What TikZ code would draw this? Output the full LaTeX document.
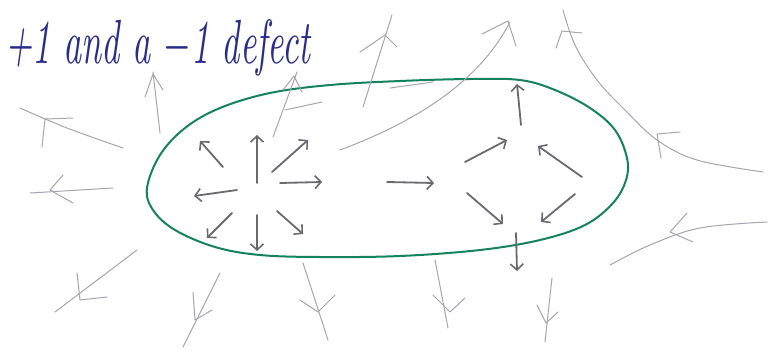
\documentclass[tikz,border=0pt]{standalone}
\usepackage{graphicx}
\usetikzlibrary{arrows.meta}
\definecolor{ink}{RGB}{40,45,140}
\definecolor{loop}{RGB}{20,130,95}
\definecolor{pencil}{RGB}{105,105,112}
\definecolor{faint}{RGB}{165,165,175}
\begin{document}
\begin{tikzpicture}[x=1pt,y=-1pt,
  inner/.style={draw=pencil,line width=1.8pt,line cap=round,-{Straight Barb[length=6pt,width=13pt,line width=1.6pt]}},
  field/.style={draw=faint,line width=1pt,line cap=round,line join=round},
  loopline/.style={draw=loop,line width=2pt},
  title/.style={text=ink,inner sep=0pt,anchor=base west}]
\useasboundingbox (0,0) rectangle (771,349);
% title
\node[title] (t) at (5,63) {\resizebox{305pt}{44pt}{\itshape +1 and a $-$1 defect}};
% loop
\draw[loopline] plot[smooth cycle,tension=0.6] coordinates {(147,188) (160,155) (185,128) (220,108) (270,93) (330,85) (400,81) (470,79) (520,80) (555,90) (590,108) (615,130) (627,158) (626,180) (613,203) (585,225) (540,240) (480,250) (400,256) (320,257) (260,255) (215,247) (175,230) (153,210)};
% +1 defect
\draw[inner] (257,183) -- (257,135);
\draw[inner] (272,172) -- (308,140);
\draw[inner] (280,183) -- (322,182);
\draw[inner] (223,167) -- (200,141);
\draw[inner] (237,190) -- (194,196);
\draw[inner] (232,213) -- (207,238);
\draw[inner] (257,215) -- (257,251);
\draw[inner] (277,211) -- (303,234);
% middle
\draw[inner] (387,182) -- (434,183);
% -1 defect
\draw[inner] (521,125) -- (517,84);
\draw[inner] (465,162) -- (507,140);
\draw[inner] (582,177) -- (538,146);
\draw[inner] (467,193) -- (503,224);
\draw[inner] (575,194) -- (541,222);
\draw[inner] (516,233) -- (517,271);
% outer field
\draw[field] (160,133) -- (153,72);
\draw[field] (145,97) -- (153,74) -- (163,90);
\draw[field] (273,137) -- (297,72);
\draw[field] (283,90) -- (294,76) -- (302,92);
\draw[field] (285,110) -- (322,102);
\draw[field] (390,88) -- (433,82);
\draw[field] (363,107) -- (392,15);
\draw[field] (360,52) -- (385,35) -- (397,47);
\draw[field] (340,150) .. controls (420,120) and (480,80) .. (510,22);
\draw[field] (482,34) -- (508,21) -- (516,46);
\draw[field] plot[smooth,tension=0.6] coordinates {(563,10) (575,45) (597,80) (625,110) (657,140) (697,160) (763,172)};
\draw[field] (556,48) -- (562,31) -- (582,33);
\draw[field] (680,132) -- (657,134) -- (661,158);
\draw[field] plot[smooth,tension=0.6] coordinates {(20,108) (67,128) (123,148)};
\draw[field] (73,118) -- (45,119) -- (42,147);
\draw[field] (30,193) -- (113,188);
\draw[field] (63,175) -- (50,190) -- (73,203);
\draw[field] (137,250) -- (55,312);
\draw[field] (77,273) -- (80,300) -- (107,297);
\draw[field] (220,273) -- (183,347);
\draw[field] (193,292) -- (195,320) -- (212,310);
\draw[field] (303,263) -- (328,340);
\draw[field] (300,300) -- (318,312) -- (335,295);
\draw[field] (435,260) -- (448,328);
\draw[field] (433,295) -- (450,312) -- (465,298);
\draw[field] (552,278) -- (545,342);
\draw[field] (537,305) -- (546,323) -- (558,312);
\draw[field] plot[smooth,tension=0.6] coordinates {(767,222) (700,228) (650,245) (610,265)};
\draw[field] (687,213) -- (670,232) -- (693,242);
\end{tikzpicture}
\end{document}
